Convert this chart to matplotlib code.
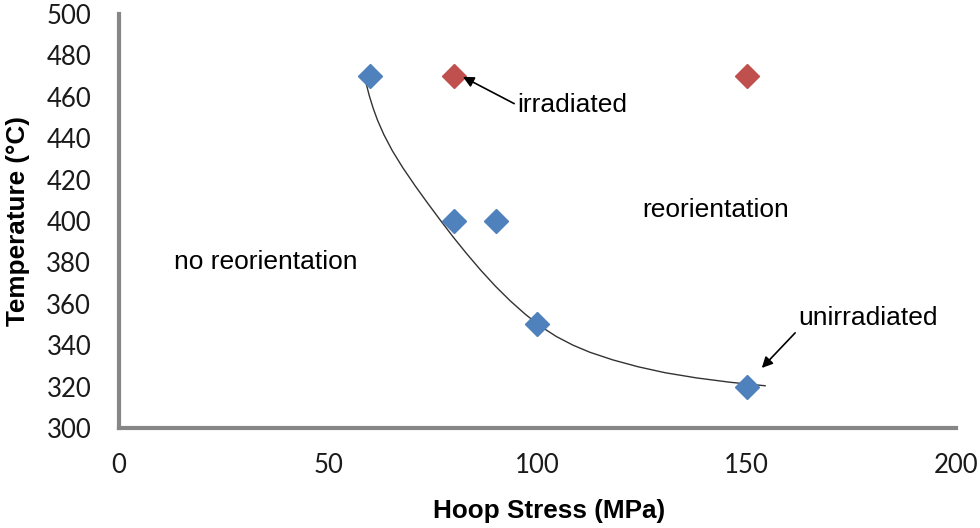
import matplotlib.pyplot as plt

# Reorientation threshold data
unirr_stress = [60, 80, 90, 100, 150]
unirr_temp = [470, 400, 400, 350, 320]
irr_stress = [80, 150]
irr_temp = [470, 470]

# Hand-drawn boundary curve
curve_stress = [58.8, 59.8, 60.8, 61.8, 63.3, 65.3, 67.8, 70.8, 73.8, 77.0, 80.0, 83.0,
                86.5, 90.0, 93.5, 97.0, 100.6, 104.5, 108.5, 112.5, 118.0, 124.0,
                130.5, 138.0, 146.0, 154.4]
curve_temp = [468.5, 460.6, 454.1, 448.6, 441.7, 434.0, 425.8, 416.9, 408.5, 399.8, 391.9, 384.4,
              376.1, 368.4, 361.4, 355.1, 349.3, 344.2, 340.0, 336.6, 332.9, 329.6,
              326.7, 324.2, 322.1, 320.4]

xticks = [0, 50, 100, 150, 200]
yticks = list(range(300, 501, 20))

tick_font = 'Lato'
text_font = 'Liberation Sans'
axis_grey = '#868686'

fig = plt.figure(figsize=(9.8, 5.28), dpi=100)
ax = fig.add_axes([0.1214, 0.1894, 0.8541, 0.7841])

ax.plot(curve_stress, curve_temp, color='#333333', lw=1.0, zorder=2)
ax.plot(unirr_stress, unirr_temp, 'D', color='#4F81BD', ms=12.5, mec='#4F81BD', zorder=3, clip_on=False)
ax.plot(irr_stress, irr_temp, 'D', color='#C0504D', ms=12.5, mec='#C0504D', zorder=3, clip_on=False)

ax.set_xlim(0, 200)
ax.set_ylim(300, 500)
ax.set_xticks(xticks)
ax.set_yticks(yticks)
ax.tick_params(length=0)
ax.tick_params(axis='y', pad=20)
ax.tick_params(axis='x', pad=18)
for lab in ax.get_xticklabels() + ax.get_yticklabels():
    lab.set_fontfamily(tick_font)
    lab.set_fontsize(18.5)
    lab.set_color('#1a1a1a')

for side in ['top', 'right']:
    ax.spines[side].set_visible(False)
for side in ['left', 'bottom']:
    ax.spines[side].set_color(axis_grey)
    ax.spines[side].set_linewidth(3)

ax.set_xlabel('Hoop Stress (MPa)', fontfamily=text_font, fontweight='bold', fontsize=18.8, va='center')
ax.set_ylabel('Temperature (°C)', fontfamily=text_font, fontweight='bold', fontsize=18.8, labelpad=12)
ax.xaxis.set_label_coords(0.5137, -0.2005)

# Region labels
ax.text(142.5, 405.3, 'reorientation', fontfamily=text_font, fontsize=19, ha='center', va='center')
ax.text(35.1, 380.2, 'no reorientation', fontfamily=text_font, fontsize=19, ha='center', va='center')

# Series callouts
arrow = dict(arrowstyle='-|>', color='black', lw=1.2, mutation_scale=16, shrinkA=0, shrinkB=0)
ax.annotate('irradiated', xy=(82.2, 469.6), xytext=(95.1, 456.0),
            fontfamily=text_font, fontsize=19, ha='left', va='center',
            arrowprops=dict(arrow, relpos=(0, 0.5)))
ax.annotate('unirradiated', xy=(153.6, 329.0), xytext=(162.2, 353.1),
            fontfamily=text_font, fontsize=19, ha='left', va='center',
            arrowprops=dict(arrow, relpos=(0, 0)))

fig.savefig('out.png', dpi=100)
